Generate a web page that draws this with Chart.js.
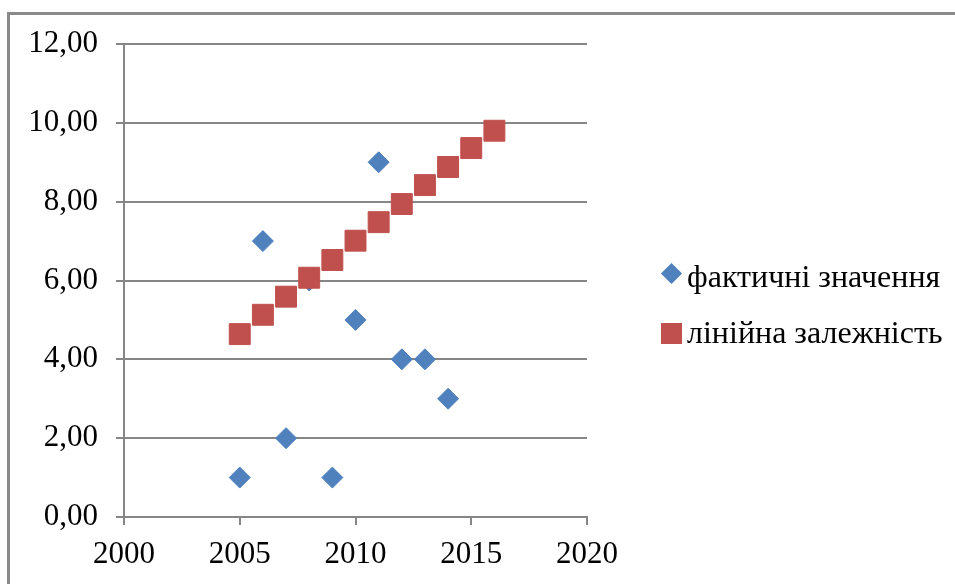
<!DOCTYPE html>
<html>
<head>
<meta charset="utf-8">
<script src="https://cdn.jsdelivr.net/npm/chart.js@4"></script>
<style>
  html, body { margin: 0; padding: 0; background: #fff; }
  body { width: 955px; height: 584px; position: relative; overflow: hidden; font-family: 'Liberation Serif', serif; }
  #frame { position: absolute; left: 7px; top: 12px; width: 1000px; height: 700px; border-top: 3px solid #8a8a8a; border-left: 3px solid #8a8a8a; }
  #wrap { position: absolute; left: 0; top: 0; width: 955px; height: 584px; }
  #legend { position: absolute; left: 660px; top: 0; }
  .item { position: absolute; left: 0; padding-left: 27px; font-size: 32px; line-height: 40px; color: #000; white-space: nowrap; }
  .mk { position: absolute; }
</style>
</head>
<body>
<div id="frame"></div>
<div id="wrap"><canvas id="c" width="955" height="584"></canvas></div>
<div id="legend"></div>
<script>
const years = [2005, 2006, 2007, 2008, 2009, 2010, 2011, 2012, 2013, 2014];
const actual = [1, 7, 2, 6, 1, 5, 9, 4, 4, 3];
const trendYears = [2005, 2006, 2007, 2008, 2009, 2010, 2011, 2012, 2013, 2014, 2015, 2016];
const trend = [4.64, 5.13, 5.59, 6.07, 6.52, 7.01, 7.48, 7.94, 8.42, 8.88, 9.36, 9.80];
const seriesNames = ['фактичні значення', 'лінійна залежність'];
const colors = ['#4f81bd', '#c0504d'];

const fontSpec = { family: "'Liberation Serif', serif", size: 31 };

const chart = new Chart(document.getElementById('c'), {
  type: 'scatter',
  data: {
    datasets: [
      { label: seriesNames[0], data: years.map((x, i) => ({ x, y: actual[i] })), pointStyle: 'rectRot', pointRadius: 10.5, pointHoverRadius: 10.5, backgroundColor: colors[0], borderColor: colors[0], borderWidth: 1, order: 2 },
      { label: seriesNames[1], data: trendYears.map((x, i) => ({ x, y: trend[i] })), pointStyle: 'rect', pointRadius: 14.8, pointHoverRadius: 14.8, backgroundColor: colors[1], borderColor: colors[1], borderWidth: 1, order: 1 }
    ]
  },
  options: {
    responsive: false,
    animation: false,
    layout: { padding: { left: 8, top: 44, right: 368, bottom: 0 } },
    plugins: { legend: { display: false }, tooltip: { enabled: false } },
    scales: {
      x: {
        type: 'linear', min: 2000, max: 2020,
        afterFit: s => { s.height = 67; },
        ticks: { stepSize: 5, color: '#000', font: fontSpec, padding: 11, maxRotation: 0, callback: v => String(v) },
        grid: { drawOnChartArea: false, tickLength: 8, color: '#868686', lineWidth: 2 },
        border: { color: '#868686', width: 2 }
      },
      y: {
        min: 0, max: 12,
        afterFit: s => { s.width = 116; },
        ticks: { stepSize: 2, color: '#000', font: fontSpec, padding: 18, callback: v => v.toFixed(2).replace('.', ',') },
        grid: { color: '#868686', lineWidth: 2, tickLength: 8 },
        border: { color: '#868686', width: 2 }
      }
    }
  }
});

// legend built from the datasets
const legend = document.getElementById('legend');
const rowTops = [256, 312];
chart.data.datasets.forEach((ds, i) => {
  const item = document.createElement('div');
  item.className = 'item';
  item.style.top = rowTops[i] + 'px';
  const mk = document.createElement('div');
  mk.className = 'mk';
  if (ds.pointStyle === 'rectRot') {
    Object.assign(mk.style, { left: '4px', top: '10px', width: '15px', height: '15px', background: ds.backgroundColor, transform: 'rotate(45deg)' });
  } else {
    Object.assign(mk.style, { left: '1px', top: '11px', width: '21px', height: '21px', background: ds.backgroundColor });
  }
  item.appendChild(mk);
  item.appendChild(document.createTextNode(ds.label));
  legend.appendChild(item);
});
</script>
</body>
</html>
